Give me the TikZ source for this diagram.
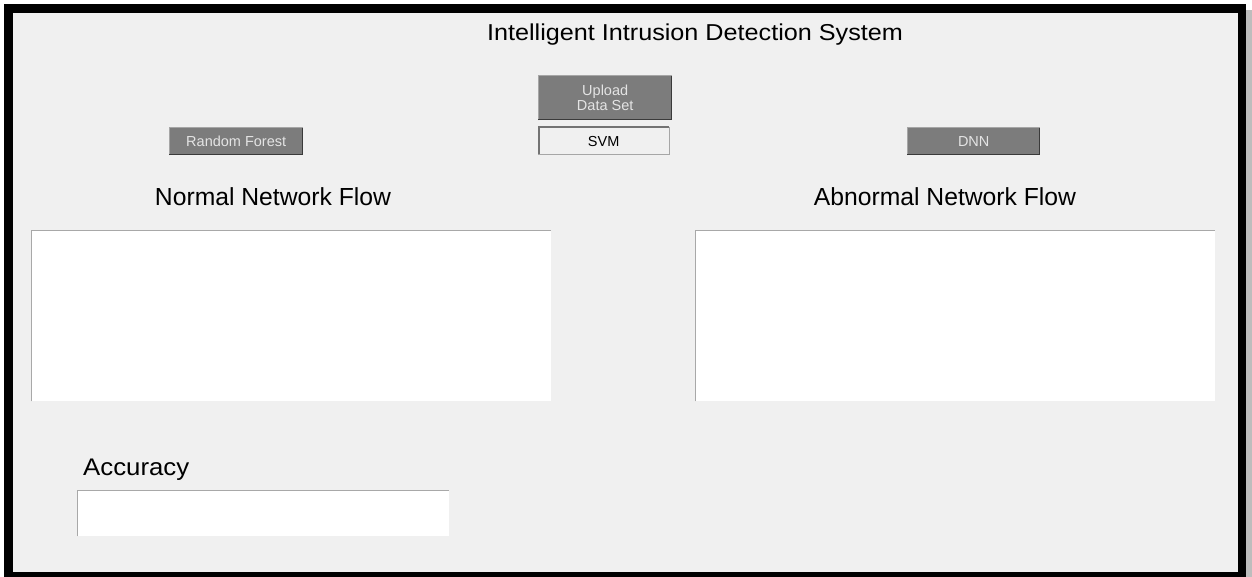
\documentclass[tikz,border=0pt]{standalone}
\usepackage{fontspec}
\setmainfont{Liberation Sans}
\definecolor{panel}{HTML}{F0F0F0}
\definecolor{btnfill}{HTML}{7C7C7C}
\definecolor{btntext}{HTML}{E4E4E4}
\definecolor{btndark}{HTML}{3A3A3A}
\definecolor{btnlight}{HTML}{A6A6A6}
\definecolor{fieldedge}{HTML}{A8A8A8}
\definecolor{shadow}{HTML}{BDBDBD}
\begin{document}
\begin{tikzpicture}[x=1pt,y=-1pt,
  btn/.style={fill=btnfill, text=btntext, inner sep=0pt, anchor=north west,
    align=center, font=\fontsize{14.5}{15}\selectfont},
  toggle/.style={fill=panel, text=black, inner sep=0pt, anchor=north west,
    align=center, font=\fontsize{14.5}{15}\selectfont},
  field/.style={fill=white, inner sep=0pt, anchor=north west},
  heading/.style={anchor=base, text=black, inner sep=0pt,
    font=\fontsize{24.7}{28}\selectfont},
  darkedge/.style={btndark, line width=1.6pt},
  lightedge/.style={btnlight, line width=1pt},
  fieldline/.style={fieldedge, line width=1.4pt}]
\useasboundingbox (0,0) rectangle (1252,577);
% window frame with its drop shadow
\fill[white] (0,0) rectangle (1252,577);
\fill[shadow] (1246,10) rectangle (1252,577);
\fill[black] (4,4) rectangle (1246,577);
\fill[panel] (13,13) rectangle (1238,572);

% title
\node[anchor=base, inner sep=0pt, font=\fontsize{23}{26}\selectfont] (title) at (695,41)
  {\scalebox{1.095}[1]{Intelligent Intrusion Detection System}};

% buttons
\node[btn, minimum width=134pt, minimum height=44pt] (upload) at (538,76) {Upload\\Data Set};
\node[toggle, minimum width=131pt, minimum height=26pt] (svm) at (538,128) {SVM};
\node[btn, minimum width=134pt, minimum height=27pt] (rf) at (169,128) {Random Forest};
\node[btn, minimum width=133pt, minimum height=27pt] (dnn) at (907,128) {DNN};

\foreach \b in {upload,rf,dnn}{
  \draw[lightedge] (\b.south west) -- (\b.north west) -- (\b.north east);
  \draw[darkedge] ([yshift=0.8pt]\b.south west) -- ([xshift=-0.8pt,yshift=0.8pt]\b.south east)
     -- ([xshift=-0.8pt]\b.north east);
}
\draw[line width=1pt, black!35] (svm.south west) rectangle (svm.north east);
\draw[line width=1.6pt, black!55] ([xshift=0.8pt]svm.south west) -- ([xshift=0.8pt,yshift=0.8pt]svm.north west)
   -- ([yshift=0.8pt]svm.north east);

% section headings
\node[heading] (normal) at (273,206) {Normal Network Flow};
\node[heading] (abnormal) at (945,206) {Abnormal Network Flow};

% output fields
\node[field, minimum width=520pt, minimum height=170pt] (normalbox) at (31,231) {};
\node[field, minimum width=520pt, minimum height=170pt] (abnormalbox) at (695,231) {};
\node[field, minimum width=372pt, minimum height=45pt] (accbox) at (77,491) {};
\foreach \f in {normalbox,abnormalbox,accbox}{
  \draw[fieldline] ([xshift=0.7pt]\f.south west) -- ([xshift=0.7pt,yshift=0.7pt]\f.north west)
     -- ([yshift=0.7pt]\f.north east);
}

% accuracy label
\node[anchor=base west, inner sep=0pt, font=\fontsize{24}{27}\selectfont] (acc) at (83,475)
  {\scalebox{1.074}[1]{Accuracy}};
\end{tikzpicture}
\end{document}
